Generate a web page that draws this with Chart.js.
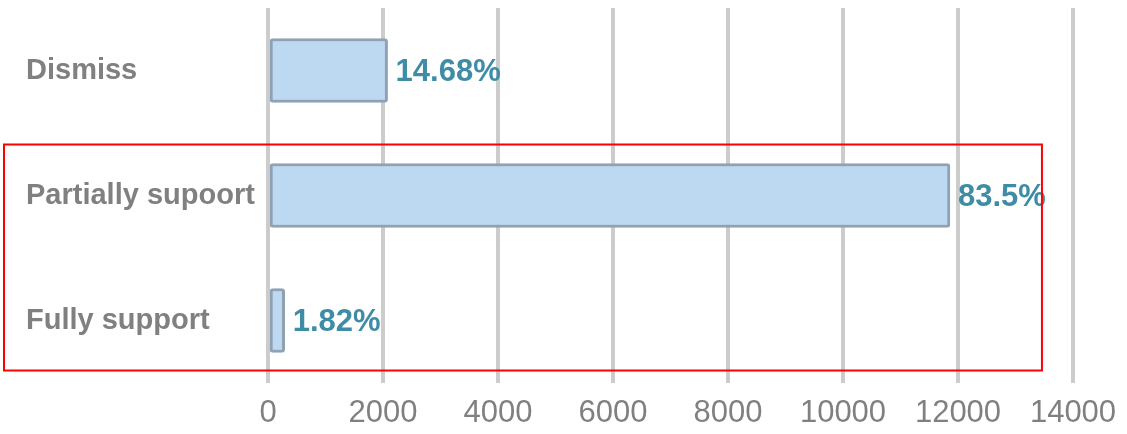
<!DOCTYPE html>
<html>
<head>
<meta charset="utf-8">
<script src="https://cdn.jsdelivr.net/npm/chart.js@4.4.1/dist/chart.umd.min.js"></script>
<style>
  html, body { margin: 0; padding: 0; background: #fff; }
  #wrap { width: 1127px; height: 434px; }
</style>
</head>
<body>
<div id="wrap"><canvas id="myChart" width="1127" height="434"></canvas></div>
<script>
const categories = ['Dismiss', 'Partially supoort', 'Fully support'];
const counts = [2080, 11860, 290];
const pctLabels = ['14.68%', '83.5%', '1.82%'];
const xTicks = [0, 2000, 4000, 6000, 8000, 10000, 12000, 14000];

// percentage text at the end of each bar
const barLabels = {
    id: 'barLabels',
    afterDatasetsDraw(chart) {
        const ctx = chart.ctx;
        const meta = chart.getDatasetMeta(0);
        ctx.save();
        ctx.font = 'bold 31px "Liberation Sans", Arial, sans-serif';
        ctx.fillStyle = '#3f8ca6';
        ctx.textAlign = 'left';
        ctx.textBaseline = 'middle';
        meta.data.forEach((bar, i) => {
            ctx.fillText(pctLabels[i], bar.x + 8, bar.y + 2);
        });
        ctx.restore();
    }
};

// red highlight box around the last two categories
const highlightBox = {
    id: 'highlightBox',
    afterDraw(chart) {
        const y = chart.scales.y;
        const x = chart.scales.x;
        const top = y.getPixelForValue(1) - 51;
        const bottom = y.getPixelForValue(2) + 50;
        const ctx = chart.ctx;
        ctx.save();
        ctx.strokeStyle = '#ff0000';
        ctx.lineWidth = 2;
        ctx.strokeRect(4, top, x.getPixelForValue(13460) - 4, bottom - top);
        ctx.restore();
    }
};

const ctx = document.getElementById('myChart').getContext('2d');
new Chart(ctx, {
    type: 'bar',
    data: {
        labels: categories,
        datasets: [{
            data: counts,
            backgroundColor: '#bdd8f1',
            borderColor: '#8ea2b4',
            borderWidth: 3,
            borderRadius: 3,
            borderSkipped: false,
            barThickness: 64
        }]
    },
    options: {
        indexAxis: 'y',
        responsive: false,
        animation: false,
        layout: { padding: { top: 8, left: 26, right: 54, bottom: 0 } },
        plugins: {
            legend: { display: false },
            tooltip: { enabled: false }
        },
        scales: {
            x: {
                min: 0,
                max: 14000,
                afterBuildTicks: scale => { scale.ticks = xTicks.map(v => ({ value: v })); },
                afterFit: scale => {
                    scale.height = 51;
                    scale.paddingLeft = 0;
                    scale.paddingRight = 0;
                },
                grid: { color: '#cccccc', lineWidth: 4, drawTicks: false },
                border: { display: false },
                ticks: {
                    padding: 12,
                    color: '#808080',
                    callback: v => String(v),
                    font: { family: '"Liberation Sans", Arial, sans-serif', size: 31 }
                }
            },
            y: {
                afterFit: scale => {
                    scale.width = 242;
                    scale.paddingTop = 0;
                    scale.paddingBottom = 0;
                },
                grid: { display: false, drawTicks: false },
                border: { display: false },
                ticks: {
                    crossAlign: 'far',
                    color: '#808080',
                    font: { family: '"Liberation Sans", Arial, sans-serif', size: 29, weight: 'bold' }
                }
            }
        }
    },
    plugins: [barLabels, highlightBox]
});
</script>
</body>
</html>
